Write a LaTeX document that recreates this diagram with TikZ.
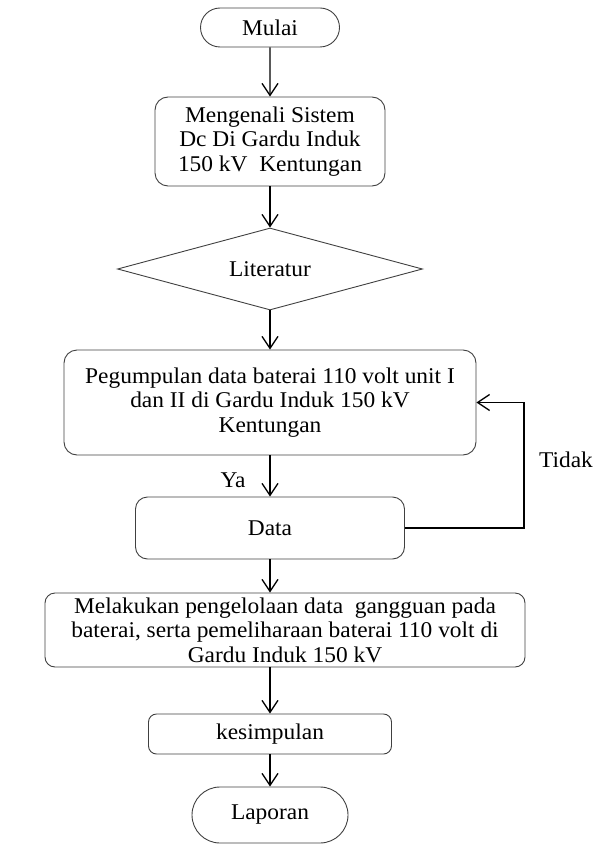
\documentclass[tikz,border=0pt]{standalone}
\usepackage{fontspec}
\setmainfont{Liberation Serif}[FakeStretch=1.04]
\usetikzlibrary{shapes.geometric,shapes.misc,arrows.meta}

\begin{document}
\begin{tikzpicture}
[x=1pt,y=-1pt,
 every node/.style={font=\fontsize{22.5}{24.5}\selectfont},
 kotakdecorate/.style={draw=black!75,line width=0.9pt,rounded corners=13pt,align=center,inner sep=0pt},
 ujungdecorate/.style={draw=black!75,line width=0.9pt,rounded rectangle,inner sep=0pt},
 panahdecorate/.style={line width=1.3pt,-{Straight Barb[length=12pt,width=16pt,line width=1.3pt]}}]
\useasboundingbox (0,0) rectangle (597,845);
%% the steps, top to bottom
\node[ujungdecorate,minimum width=139pt,minimum height=39pt] (mulai) at (270,27.5) {Mulai};
\node[kotakdecorate,minimum width=230pt,minimum height=89pt] (sistem) at (270,141.5)
  {Mengenali Sistem\\Dc Di Gardu Induk\\150 kV~ Kentungan};
\node[draw=black!75,line width=0.9pt,diamond,shape aspect=3.7,inner sep=0pt,
  minimum width=305pt,minimum height=82pt] (literatur) at (270,269) {Literatur};
\node[kotakdecorate,minimum width=412pt,minimum height=105pt] (kumpul) at (270,402.5)
  {Pegumpulan data baterai 110 volt unit I\\dan II di Gardu Induk 150 kV\\Kentungan};
\node[kotakdecorate,rounded corners=12pt,minimum width=269pt,minimum height=62pt] (data) at (270,528) {Data};
\node[kotakdecorate,rounded corners=10pt,minimum width=480pt,minimum height=74pt] (kelola) at (285,630)
  {Melakukan pengelolaan data~ gangguan pada\\baterai, serta pemeliharaan baterai 110 volt di\\Gardu Induk 150 kV};
\node[kotakdecorate,rounded corners=8pt,minimum width=243pt,minimum height=40pt] (simpul) at (270,734) {kesimpulan};
\node[ujungdecorate,minimum width=156pt,minimum height=56pt] (laporan) at (270,815) {Laporan};
%% labels of the branch
\node (ya) at (233,480) {Ya};
\node (tidak) at (566,460) {Tidak};
%% the arrows
\draw[panahdecorate] (mulai) -- (sistem);
\draw[panahdecorate] (sistem) -- (literatur);
\draw[panahdecorate] (literatur) -- (kumpul);
\draw[panahdecorate] (kumpul) -- (data);
\draw[panahdecorate] (data.south) -- (data.south |- kelola.north);
\draw[panahdecorate] (kelola.south -| simpul.north) -- (simpul);
\draw[panahdecorate] (simpul) -- (laporan);
\draw[panahdecorate] (data.east) -- ++(119,0) |- (kumpul.east);
\end{tikzpicture}
\end{document}
